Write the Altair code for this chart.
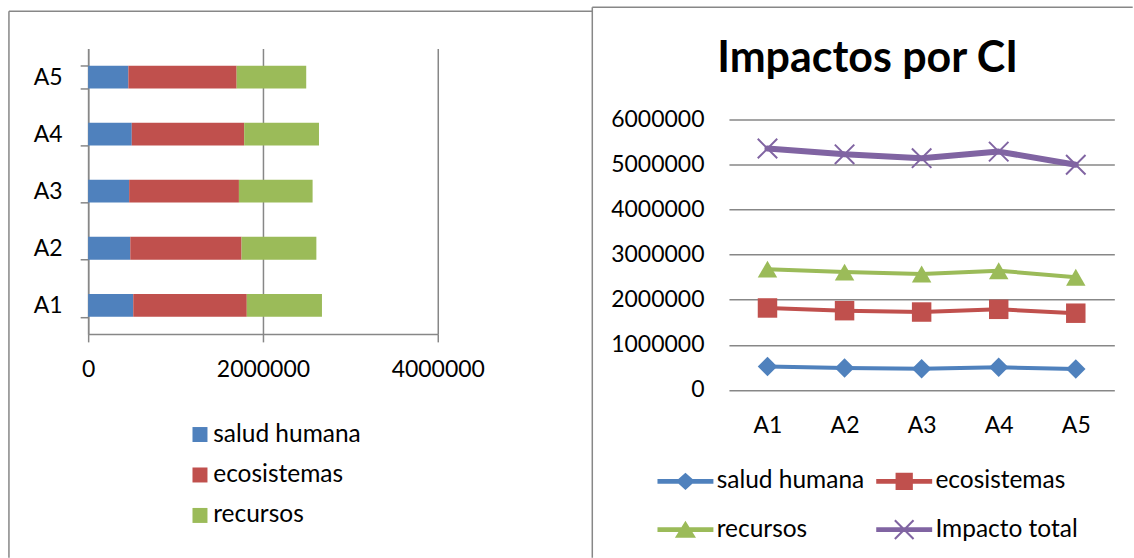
import math
import altair as alt
import pandas as pd

# --- datos -------------------------------------------------------------
alternativas = ["A1", "A2", "A3", "A4", "A5"]
salud_humana = [516000, 482000, 469000, 499000, 460000]
ecosistemas = [1299000, 1273000, 1256000, 1286000, 1239000]
recursos = [860000, 856000, 843000, 856000, 796000]

series = ["salud humana", "ecosistemas", "recursos", "Impacto total"]
colores = ["#4F81BD", "#C0504D", "#9BBB59", "#8064A2"]
ticks_barras = [0, 2000000, 4000000]
ticks_lineas = [0, 1000000, 2000000, 3000000, 4000000, 5000000, 6000000]
titulo = "Impactos por CI"

GRIS = "#878787"
FUENTE = "Lato"

filas = []
for i, a in enumerate(alternativas):
    vals = [salud_humana[i], ecosistemas[i], recursos[i]]
    vals.append(sum(vals))
    for orden, (s, v) in enumerate(zip(series, vals)):
        filas.append({"alternativa": a, "serie": s, "valor": v, "orden": orden})
df = pd.DataFrame(filas)


# --- símbolos (trazados SVG rellenos) ----------------------------------
def poligono(puntos):
    return "M" + " L".join(f"{x:.3f},{y:.3f}" for x, y in puntos) + " Z"


def aspa(a, t):
    d = t / math.sqrt(2)
    return (poligono([(-a + d, -a - d), (a + d, a - d), (a - d, a + d), (-a - d, -a + d)]) + " " +
            poligono([(a + d, -a + d), (-a + d, a + d), (-a - d, a - d), (a - d, -a - d)]))


formas_puntos = ["diamond", "square", "triangle-up", aspa(1.0, 0.1)]

# leyenda: segmento de línea + marcador (tamaño de símbolo 576 -> radio 12 px)
segmento = poligono([(-2.333, -0.2), (2.333, -0.2), (2.333, 0.2), (-2.333, 0.2)])
marcadores_leyenda = [
    poligono([(0, -0.72), (0.8, 0), (0, 0.72), (-0.8, 0)]),
    poligono([(-0.72, -0.72), (0.72, -0.72), (0.72, 0.72), (-0.72, 0.72)]),
    poligono([(0, -0.75), (0.88, 0.68), (-0.88, 0.68)]),
    aspa(0.78, 0.085),
]


def expr_por_serie(valores):
    e = "'" + valores[-1] + "'"
    for s, v in reversed(list(zip(series[:-1], valores[:-1]))):
        e = f"datum.value === '{s}' ? '{v}' : ({e})"
    return e


forma_leyenda = expr_por_serie([segmento + " " + m for m in marcadores_leyenda])
relleno_leyenda = expr_por_serie(colores)

# --- geometría de los paneles -----------------------------------------
L_W, L_H = 350, 285.7
R_W, R_H = 385.8, 341.7
L_X0, L_Y0 = 87.3, 47.3
R_X0, R_Y0 = 728.8, 47.3
ESPACIO = R_X0 - (L_X0 + L_W)
TAM_LEYENDA = 24.5

uno = alt.Data(values=[{"k": 0}])


def marco(izq, sup, der, inf, ancho):
    # bordes superior e izquierdo de un área de gráfico (origen: panel izquierdo)
    borde_sup = alt.Chart(uno).mark_rule(color=GRIS, strokeWidth=ancho).encode(
        x=alt.value(izq - L_X0), x2=alt.value(der - L_X0), y=alt.value(sup - L_Y0))
    borde_izq = alt.Chart(uno).mark_rule(color=GRIS, strokeWidth=ancho).encode(
        x=alt.value(izq - L_X0), y=alt.value(sup - L_Y0), y2=alt.value(inf - L_Y0))
    return [borde_sup, borde_izq]


# --- panel izquierdo: barras apiladas ---------------------------------
barras = alt.Chart(df[df.serie != "Impacto total"]).mark_bar().encode(
    x=alt.X("valor:Q", stack="zero",
            scale=alt.Scale(domain=[0, 4000000], nice=False),
            axis=alt.Axis(values=ticks_barras, format="d", title=None, grid=True,
                          gridColor=GRIS, gridWidth=1.5, domainColor=GRIS, domainWidth=1.5,
                          tickColor=GRIS, tickWidth=1.5, tickSize=8, labelPadding=17,
                          labelFlush=False)),
    y=alt.Y("alternativa:N", sort=alternativas[::-1],
            scale=alt.Scale(paddingInner=0.6, paddingOuter=0.3),
            axis=alt.Axis(title=None, tickBand="extent", grid=False, domainColor=GRIS,
                          domainWidth=1.5, tickColor=GRIS, tickWidth=1.5, tickSize=8,
                          labelPadding=18)),
    color=alt.Color("serie:N", scale=alt.Scale(domain=series[:3], range=colores[:3]),
                    legend=alt.Legend(title=None, orient="none", legendX=187 - L_X0,
                                      legendY=421.5 - L_Y0, direction="vertical",
                                      symbolType="square", symbolSize=225,
                                      symbolStrokeWidth=0, labelOffset=1,
                                      rowPadding=15.5, padding=0, labelLimit=300)),
    order=alt.Order("orden:Q"),
)

izquierda = alt.layer(
    *marco(8, 10, 592, 557, 1.5),
    *marco(592, 6, 1133, 557, 1.5),
    barras,
).properties(width=L_W, height=L_H)

# --- panel derecho: líneas acumuladas ---------------------------------
base = alt.Chart(df).transform_window(
    acumulado="sum(valor)", groupby=["alternativa"],
    sort=[alt.SortField("orden")], frame=[None, 0])

x_der = alt.X("alternativa:N", sort=alternativas, scale=alt.Scale(padding=0.5),
              axis=alt.Axis(title=None, labelAngle=0, domain=False, ticks=False,
                            labelPadding=24.5))
y_der = alt.Y("acumulado:Q",
              scale=alt.Scale(domain=[0, 6000000], range=[R_H, 118.1 - R_Y0], nice=False),
              axis=alt.Axis(values=ticks_lineas, format="d", title=None, domain=False,
                            ticks=False, grid=True, gridColor=GRIS, gridWidth=1.5,
                            labelPadding=25, labelFlush=False))

leyenda_der = alt.Legend(
    title=None, orient="none", legendX=673 - R_X0, legendY=468.2 - R_Y0,
    direction="horizontal", columns=2, symbolSize=576, symbolStrokeWidth=0,
    symbolType=alt.ExprRef(forma_leyenda), symbolFillColor=alt.ExprRef(relleno_leyenda),
    symbolOpacity=1,
    labelOffset=19, rowPadding=23.5, columnPadding=11, padding=0, labelLimit=300,
)

lineas = base.mark_line(strokeCap="round", strokeJoin="round").encode(
    x=x_der, y=y_der,
    color=alt.Color("serie:N", scale=alt.Scale(domain=series, range=colores),
                    legend=leyenda_der),
    strokeWidth=alt.condition(alt.datum.serie == series[-1], alt.value(6), alt.value(4)),
)

# marcadores de cada serie
puntos = [
    base.transform_filter(alt.datum.serie == s)
        .mark_point(filled=True, size=380, opacity=1, shape=forma, color=c)
        .encode(x=x_der, y=y_der)
    for s, c, forma in zip(series, colores, formas_puntos)
]

encabezado = alt.Chart(uno).mark_text(
    font=FUENTE, fontSize=43, fontWeight="bold", color="black",
    align="center", baseline="alphabetic",
).encode(x=alt.value(867.6 - R_X0), y=alt.value(71.2 - R_Y0), text=alt.value(titulo))

derecha = alt.layer(lineas, *puntos, encabezado).properties(width=R_W, height=R_H)

chart = alt.hconcat(
    izquierda, derecha, spacing=ESPACIO, bounds="flush"
).resolve_scale(
    x="independent", y="independent", color="independent",
).resolve_legend(
    color="independent"
).properties(
    padding={"left": 7.25, "top": 5.25, "right": 0, "bottom": 0},
    background="white",
).configure_view(
    stroke=None
).configure_axis(
    labelFont=FUENTE, labelFontSize=23, labelColor="black"
).configure_legend(
    labelFont=FUENTE, labelFontSize=TAM_LEYENDA, labelColor="black"
)

chart.save("out.html", embed_options={"renderer": "svg", "actions": False})
